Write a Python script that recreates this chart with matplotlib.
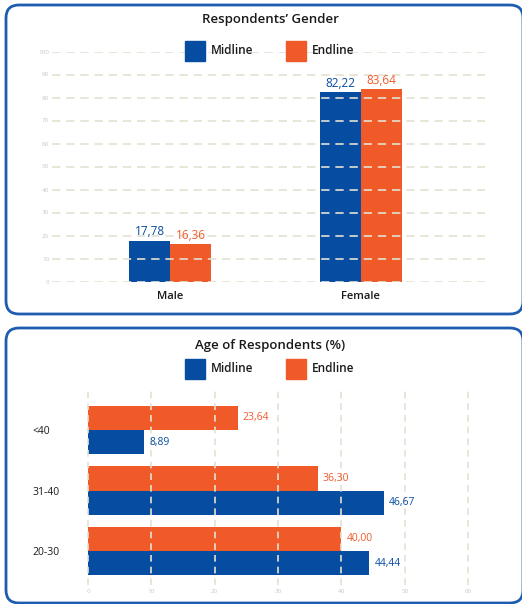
import numpy as np
import matplotlib.pyplot as plt
from matplotlib.patches import FancyBboxPatch, Rectangle

plt.rcParams['font.family'] = ['Open Sans', 'DejaVu Sans']

# gender
gender_cats = ['Male', 'Female']
gender_mid = [17.78, 82.22]
gender_end = [16.36, 83.64]

# age groups, bottom to top
age_cats = ['20-30', '31-40', '<40']
age_mid = [44.44, 46.67, 8.89]
age_end = [40.00, 36.30, 23.64]

BLUE = '#064ca1'
ORANGE = '#f05a28'
GRID = '#e4e0d2'
TICK = '#c8c8c8'
TEXT = '#1a1a1a'
W, H = 522, 604


def fx(px):
    return px / W


def fy(py):
    return 1 - py / H


def fmt(v):
    return f'{v:.2f}'.replace('.', ',')


fig = plt.figure(figsize=(W / 100, H / 100), dpi=100)

# rounded panel frames (inches, 100 px per inch)
for top, bottom in [(5, 314), (328, 603)]:
    box = FancyBboxPatch((0.06, (H - bottom) / 100), 5.17, (bottom - top) / 100,
                         boxstyle='round,pad=0,rounding_size=0.13',
                         transform=fig.dpi_scale_trans, fill=False,
                         edgecolor='#1d5cb0', linewidth=2)
    fig.patches.append(box)


def legend(y):
    for x0, label, c in [(185, 'Midline', BLUE), (286, 'Endline', ORANGE)]:
        fig.patches.append(Rectangle((fx(x0), fy(y + 10)), fx(20), 20 / H,
                                     transform=fig.transFigure, color=c))
        fig.text(fx(x0 + 26), fy(y), label, ha='left', va='center',
                 fontsize=8.5, color=TEXT, fontweight='semibold')


# --- gender chart ---
ax1 = fig.add_axes([fx(52), fy(281.5), fx(433), (281.5 - 51.5) / H])
x = np.arange(len(gender_cats))
bw = 0.215
ax1.bar(x - bw / 2, gender_mid, bw, color=BLUE, zorder=1)
ax1.bar(x + bw / 2, gender_end, bw, color=ORANGE, zorder=1)
for i in range(len(x)):
    ax1.text(x[i] - bw / 2, gender_mid[i] + 1, fmt(gender_mid[i]), ha='center',
             va='bottom', fontsize=8.5, color=BLUE)
    ax1.text(x[i] + bw / 2, gender_end[i] + 1, fmt(gender_end[i]), ha='center',
             va='bottom', fontsize=8.5, color=ORANGE)
ax1.set_xlim(-0.618, 1.65)
ax1.set_ylim(0, 100)
ax1.set_yticks(range(0, 101, 10))
ax1.set_xticks(x)
ax1.set_xticklabels(gender_cats, fontsize=8, color=TEXT, fontweight='semibold')
ax1.tick_params(axis='y', labelsize=4.5, labelcolor=TICK, length=0, pad=2)
ax1.tick_params(axis='x', length=0, pad=7)
for v in range(0, 101, 10):
    ax1.axhline(v, color=GRID, lw=1.2, dashes=(5, 3.5), zorder=2)
for s in ax1.spines.values():
    s.set_visible(False)
ax1.patch.set_alpha(0)
fig.text(fx(270), fy(20), "Respondents’ Gender", ha='center', va='center',
         fontsize=9.5, color=TEXT, fontweight='semibold')
legend(51)

# --- age chart ---
ax2 = fig.add_axes([fx(88), fy(585), fx(380), (585 - 390) / H])
y = np.arange(len(age_cats))
bh = 0.4
ax2.barh(y + bh / 2, age_end, bh, color=ORANGE, zorder=1)
ax2.barh(y - bh / 2, age_mid, bh, color=BLUE, zorder=1)
for i in range(len(y)):
    ax2.text(age_end[i] + 0.8, y[i] + bh / 2, fmt(age_end[i]), ha='left',
             va='center', fontsize=7.5, color=ORANGE)
    ax2.text(age_mid[i] + 0.8, y[i] - bh / 2, fmt(age_mid[i]), ha='left',
             va='center', fontsize=7.5, color=BLUE)
ax2.set_xlim(0, 60)
ax2.set_ylim(-0.56, 2.66)
ax2.set_xticks(range(0, 61, 10))
ax2.set_yticks(y)
ax2.set_yticklabels(age_cats, fontsize=7.5, color=TEXT, ha='left')
ax2.tick_params(axis='y', length=0, pad=40)
ax2.tick_params(axis='x', labelsize=4.5, labelcolor=TICK, length=0, pad=3)
for v in range(0, 61, 10):
    ax2.axvline(v, color=GRID, lw=1.2, dashes=(4, 3), zorder=2, clip_on=False)
for s in ax2.spines.values():
    s.set_visible(False)
ax2.patch.set_alpha(0)
fig.text(fx(270), fy(345), 'Age of Respondents (%)', ha='center', va='center',
         fontsize=9.5, color=TEXT, fontweight='semibold')
legend(369)

fig.savefig('out.png', dpi=100)
